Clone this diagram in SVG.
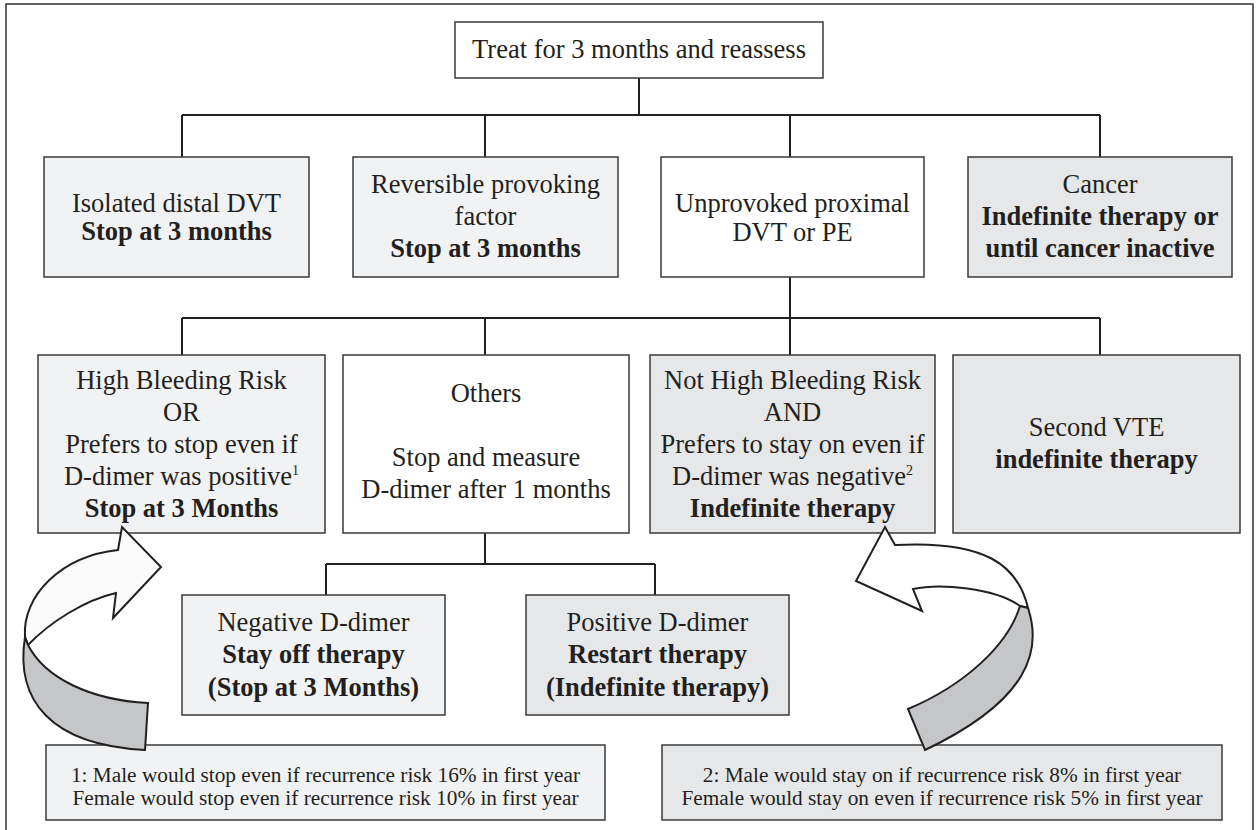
<svg xmlns="http://www.w3.org/2000/svg" width="1258" height="830" viewBox="0 0 1258 830" font-family="'Liberation Serif', 'Times New Roman', 'DejaVu Serif', serif">
<style>
.box{stroke:#3a3a3a;stroke-width:1.5}
.w{fill:#ffffff}.l{fill:#f1f2f3}.m{fill:#e6e7e8}
text{font-family:'Liberation Serif','Times New Roman','DejaVu Serif',serif;font-size:26.5px;fill:#231f20;text-anchor:middle}
.b{font-weight:bold}
.fn{font-size:21.3px}
.conn path{stroke:#231f20;stroke-width:2;fill:none}
.arr{stroke:#231f20;stroke-width:2;stroke-linejoin:miter}
</style>
<rect width="1258" height="830" fill="#ffffff"/>
<path d="M6,830 V4 H1253 V830" fill="none" stroke="#333" stroke-width="1.5"/>
<g class="conn" id="connectors">
<path d="M639,78 V115"/>
<path d="M182,115 H1100" stroke-width="2.5"/>
<path d="M182,115 V157 M485,115 V157 M790,115 V157 M1100,115 V157"/>
<path d="M790,277 V318"/>
<path d="M182,318 H1100" stroke-width="2.5"/>
<path d="M182,318 V355 M485,318 V355 M790,318 V355 M1100,318 V355"/>
<path d="M485,533 V564 M326,564 H655 M326,564 V595 M655,564 V595"/>
</g>
<g id="n_top"><rect class="box w" x="455" y="22" width="368" height="56"/><text x="639" y="58">Treat for 3 months and reassess</text></g>
<g id="n_distal"><rect class="box l" x="44" y="157" width="265" height="120"/><text x="176.5" y="212">Isolated distal DVT</text><text class="b" x="176.5" y="240">Stop at 3 months</text></g>
<g id="n_reversible"><rect class="box l" x="353" y="157" width="265" height="120"/><text x="485.5" y="193">Reversible provoking</text><text x="485.5" y="225">factor</text><text class="b" x="485.5" y="257">Stop at 3 months</text></g>
<g id="n_unprovoked"><rect class="box w" x="661" y="157" width="263" height="120"/><text x="792.5" y="212">Unprovoked proximal</text><text x="792.5" y="241">DVT or PE</text></g>
<g id="n_cancer"><rect class="box m" x="968" y="157" width="264" height="120"/><text x="1100" y="193">Cancer</text><text class="b" x="1100" y="225">Indefinite therapy or</text><text class="b" x="1100" y="257">until cancer inactive</text></g>
<g id="n_highbleed"><rect class="box l" x="38" y="355" width="287" height="178"/><text x="181.5" y="389">High Bleeding Risk</text><text x="181.5" y="421">OR</text><text x="181.5" y="453">Prefers to stop even if</text><text x="181.5" y="485">D-dimer was positive<tspan font-size="14" dy="-10">1</tspan></text><text class="b" x="181.5" y="517">Stop at 3 Months</text></g>
<g id="n_others"><rect class="box w" x="343" y="355" width="286" height="178"/><text x="486" y="402">Others</text><text x="486" y="466">Stop and measure</text><text x="486" y="498">D-dimer after 1 months</text></g>
<g id="n_nothigh"><rect class="box m" x="650" y="355" width="285" height="178"/><text x="792.5" y="389">Not High Bleeding Risk</text><text x="792.5" y="421">AND</text><text x="792.5" y="453">Prefers to stay on even if</text><text x="792.5" y="485">D-dimer was negative<tspan font-size="14" dy="-10">2</tspan></text><text class="b" x="792.5" y="517">Indefinite therapy</text></g>
<g id="n_second"><rect class="box m" x="953" y="355" width="287" height="178"/><text x="1096.5" y="436">Second VTE</text><text class="b" x="1096.5" y="468">indefinite therapy</text></g>
<g id="n_negative"><rect class="box l" x="182" y="595" width="263" height="120"/><text x="313.5" y="631">Negative D-dimer</text><text class="b" x="313.5" y="663">Stay off therapy</text><text class="b" x="313.5" y="696">(Stop at 3 Months)</text></g>
<g id="n_positive"><rect class="box m" x="526" y="595" width="263" height="120"/><text x="657.5" y="631">Positive D-dimer</text><text class="b" x="657.5" y="663">Restart therapy</text><text class="b" x="657.5" y="696">(Indefinite therapy)</text></g>
<g id="n_note1"><rect class="box l" x="46" y="745" width="559" height="75"/><text class="fn" x="325.5" y="782">1: Male would stop even if recurrence risk 16% in first year</text><text class="fn" x="325.5" y="805">Female would stop even if recurrence risk 10% in first year</text></g>
<g id="n_note2"><rect class="box m" x="662" y="745" width="560" height="75"/><text class="fn" x="942" y="782">2: Male would stay on if recurrence risk 8% in first year</text><text class="fn" x="942" y="805">Female would stay on even if recurrence risk 5% in first year</text></g>
<g id="arrows">
<path class="arr" fill="#fbfbfb" d="M118,550 L122,527 L161,567 L113,618 L116,593 C85,600 50,622 28,645 L25,637 C22,595 62,556 118,550 Z"/>
<path class="arr" fill="#c5c6c8" d="M25,637 C15,700 50,745 145,750 L148,703 C90,700 45,678 28,645 Z"/>
<path class="arr" fill="#ffffff" d="M895,545 L885,527 L856,581 L922,611 L913,589 C940,583 995,588 1020,606 L1028,608 C1018,565 985,540 895,545 Z"/>
<path class="arr" fill="#c5c6c8" d="M1028,608 C1042,650 1030,700 925,750 L908,709 C965,685 1008,645 1020,606 Z"/>
</g>
</svg>
